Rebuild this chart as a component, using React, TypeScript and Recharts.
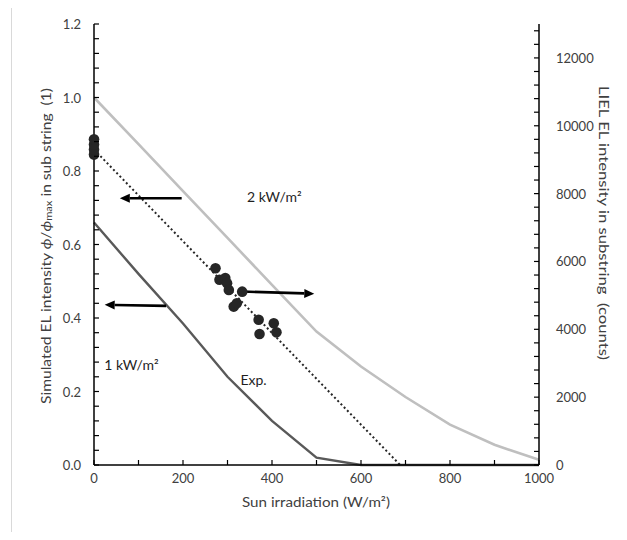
import {
  ComposedChart,
  Line,
  Scatter,
  XAxis,
  YAxis,
  ReferenceLine,
  ReferenceDot,
} from "recharts";

// simulated EL intensity (left axis, normalised) vs sun irradiation
const IRRADIATION = [0, 100, 200, 300, 400, 500, 600, 700, 800, 900, 1000];
const SIM_2KW = [1.0, 0.873, 0.745, 0.618, 0.49, 0.363, 0.268, 0.185, 0.11, 0.055, 0.014];
const SIM_1KW = [0.66, 0.52, 0.385, 0.24, 0.12, 0.02, 0, 0, 0, 0, 0];

// LIEL measurements (right axis, counts)
const EXP_W = [0, 0, 0, 0, 273, 282, 295, 299, 303, 333, 314, 321, 370, 404, 372, 410];
const EXP_COUNTS = [9150, 9300, 9450, 9600, 5800, 5460, 5510, 5360, 5160, 5110, 4670, 4770, 4280, 4180, 3860, 3910];

// linear trend of the measurements
const TREND_W = [0, 688];
const TREND_COUNTS = [9300, 0];

const X_TICKS = [0, 100, 200, 300, 400, 500, 600, 700, 800, 900, 1000];
const X_LABELS = [0, 200, 400, 600, 800, 1000];
const LEFT_LABELS = [0, 0.2, 0.4, 0.6, 0.8, 1.0, 1.2];
const RIGHT_LABELS = [0, 2000, 4000, 6000, 8000, 10000, 12000];

const LEFT_TICKS = Array.from({ length: 31 }, (_, i) => +(i * 0.04).toFixed(2));
const RIGHT_TICKS = Array.from({ length: 33 }, (_, i) => i * 400);

const simData = IRRADIATION.map((w, i) => ({ w, sim2: SIM_2KW[i], sim1: SIM_1KW[i] }));
const expData = EXP_W.map((w, i) => ({ w, counts: EXP_COUNTS[i] }));
const trendData = TREND_W.map((w, i) => ({ w, counts: TREND_COUNTS[i] }));

const FONT = "Lato, 'Open Sans', sans-serif";
const TICK_COLOR = "#404040";
const TICK_LEN = 5;
const AXIS_LINE = { stroke: "#000", strokeWidth: 1.5 };

// ticks point into the plot, like Excel's "inside" tick marks
function BottomTick(props: any) {
  const { x, y, payload } = props;
  const v = payload.value;
  return (
    <g>
      <line x1={x} y1={y} x2={x} y2={y - TICK_LEN} stroke="#000" strokeWidth={1.2} />
      {X_LABELS.includes(v) && (
        <text x={x} y={y + 13} textAnchor="middle" dominantBaseline="central" fontSize={13} fontFamily={FONT} fill={TICK_COLOR}>
          {v}
        </text>
      )}
    </g>
  );
}

function TopTick(props: any) {
  const { x, y } = props;
  return <line x1={x} y1={y} x2={x} y2={y + TICK_LEN} stroke="#000" strokeWidth={1.2} />;
}

function LeftTick(props: any) {
  const { x, y, payload } = props;
  const v = payload.value;
  const major = LEFT_LABELS.some((l) => Math.abs(l - v) < 1e-6);
  return (
    <g>
      <line x1={x} y1={y} x2={x + TICK_LEN} y2={y} stroke="#000" strokeWidth={1.2} />
      {major && (
        <text x={x - 13} y={y} textAnchor="end" dominantBaseline="central" fontSize={13} fontFamily={FONT} fill={TICK_COLOR}>
          {v.toFixed(1)}
        </text>
      )}
    </g>
  );
}

function RightTick(props: any) {
  const { x, y, payload } = props;
  const v = payload.value;
  return (
    <g>
      <line x1={x} y1={y} x2={x - TICK_LEN} y2={y} stroke="#000" strokeWidth={1.2} />
      {RIGHT_LABELS.includes(v) && (
        <text x={x + 17} y={y} textAnchor="start" dominantBaseline="central" fontSize={13} fontFamily={FONT} fill={TICK_COLOR}>
          {v}
        </text>
      )}
    </g>
  );
}

function Arrow(props: any) {
  const { x1, y1, x2, y2 } = props;
  const ang = Math.atan2(y2 - y1, x2 - x1);
  const len = 10;
  const half = 4.5;
  const bx = x2 - len * Math.cos(ang);
  const by = y2 - len * Math.sin(ang);
  const px = -Math.sin(ang) * half;
  const py = Math.cos(ang) * half;
  return (
    <g>
      <line x1={x1} y1={y1} x2={bx} y2={by} stroke="#000" strokeWidth={2.6} />
      <polygon points={`${x2},${y2} ${bx + px},${by + py} ${bx - px},${by - py}`} fill="#000" />
    </g>
  );
}

function Note(text: string) {
  return (props: any) => (
    <text x={props.cx} y={props.cy} dominantBaseline="central" fontSize={14} fontFamily={FONT} fill="#1f1f1f">
      {text}
    </text>
  );
}

export default function App() {
  return (
    <div
      style={{
        position: "relative",
        width: 627,
        height: 540,
        margin: -8,
        background: "#fff",
        overflow: "hidden",
        fontFamily: FONT,
      }}
    >
      <div
        style={{
          position: "absolute",
          left: 11,
          top: 4,
          width: 700,
          height: 700,
          borderTop: "1.5px solid #d9d9d9",
          borderLeft: "1.5px solid #d9d9d9",
        }}
      />
      <ComposedChart
        width={627}
        height={540}
        data={simData}
        margin={{ top: 24, right: 0, bottom: 0, left: 0 }}
        style={{ position: "absolute", left: 0, top: 0 }}
      >
        <XAxis
          xAxisId="bottom"
          dataKey="w"
          type="number"
          domain={[0, 1000]}
          ticks={X_TICKS}
          interval={0}
          tick={BottomTick}
          tickSize={0}
          tickMargin={0}
          tickLine={false}
          axisLine={AXIS_LINE}
          height={75}
        />
        <XAxis
          xAxisId="top"
          orientation="top"
          dataKey="w"
          type="number"
          domain={[0, 1000]}
          ticks={X_TICKS}
          interval={0}
          tick={TopTick}
          tickSize={0}
          tickMargin={0}
          tickLine={false}
          axisLine={AXIS_LINE}
          height={0}
        />
        <YAxis
          yAxisId="left"
          type="number"
          domain={[0, 1.2]}
          ticks={LEFT_TICKS}
          interval={0}
          tick={LeftTick}
          tickSize={0}
          tickMargin={0}
          tickLine={false}
          axisLine={AXIS_LINE}
          width={94}
        />
        <YAxis
          yAxisId="right"
          orientation="right"
          type="number"
          domain={[0, 13000]}
          ticks={RIGHT_TICKS}
          interval={0}
          tick={RightTick}
          tickSize={0}
          tickMargin={0}
          tickLine={false}
          axisLine={AXIS_LINE}
          width={88}
        />

        <Line
          xAxisId="bottom"
          yAxisId="left"
          dataKey="sim2"
          stroke="#bfbfbf"
          strokeWidth={2.6}
          dot={false}
          isAnimationActive={false}
        />
        <Line
          xAxisId="bottom"
          yAxisId="left"
          dataKey="sim1"
          stroke="#595959"
          strokeWidth={2.4}
          dot={false}
          isAnimationActive={false}
        />
        <Line
          xAxisId="bottom"
          yAxisId="right"
          data={trendData}
          dataKey="counts"
          stroke="#262626"
          strokeWidth={2}
          strokeDasharray="2 2.6"
          dot={false}
          isAnimationActive={false}
        />
        <Scatter
          xAxisId="bottom"
          yAxisId="right"
          data={expData}
          dataKey="counts"
          isAnimationActive={false}
          shape={(p: any) => <circle cx={p.cx} cy={p.cy} r={5.3} fill="#262626" />}
        />

        <ReferenceLine
          xAxisId="bottom"
          yAxisId="left"
          segment={[{ x: 197, y: 0.726 }, { x: 58, y: 0.726 }]}
          shape={Arrow}
        />
        <ReferenceLine
          xAxisId="bottom"
          yAxisId="left"
          segment={[{ x: 162, y: 0.433 }, { x: 24, y: 0.436 }]}
          shape={Arrow}
        />
        <ReferenceLine
          xAxisId="bottom"
          yAxisId="right"
          segment={[{ x: 333, y: 5114 }, { x: 495, y: 5050 }]}
          shape={Arrow}
        />

        <ReferenceDot xAxisId="bottom" yAxisId="left" x={344} y={0.73} r={0} shape={Note("2 kW/m²")} />
        <ReferenceDot xAxisId="bottom" yAxisId="left" x={23} y={0.273} r={0} shape={Note("1 kW/m²")} />
        <ReferenceDot xAxisId="bottom" yAxisId="left" x={329} y={0.232} r={0} shape={Note("Exp.")} />
      </ComposedChart>

      <svg width={627} height={540} style={{ position: "absolute", left: 0, top: 0, pointerEvents: "none" }}>
        <text
          x={316}
          y={501}
          textAnchor="middle"
          dominantBaseline="central"
          fontSize={14}
          fontFamily={FONT}
          fill="#404040"
          textLength={148}
          lengthAdjust="spacingAndGlyphs"
        >
          Sun irradiation (W/m²)
        </text>
        <text
          transform="translate(45 246) rotate(-90)"
          textAnchor="middle"
          dominantBaseline="central"
          fontSize={14}
          fontFamily={FONT}
          fill="#404040"
          textLength={316}
          lengthAdjust="spacingAndGlyphs"
          style={{ whiteSpace: "pre" }}
        >
          Simulated EL intensity <tspan fontStyle="italic">ϕ</tspan>/<tspan fontStyle="italic">ϕ</tspan>
          <tspan fontSize={10} dy={3}>max</tspan>
          <tspan dy={-3}>{" in sub string  (1)"}</tspan>
        </text>
        <text
          transform="translate(604 223) rotate(90)"
          textAnchor="middle"
          dominantBaseline="central"
          fontSize={14}
          fontFamily={FONT}
          fill="#404040"
          textLength={274}
          lengthAdjust="spacingAndGlyphs"
          style={{ whiteSpace: "pre" }}
        >
          {"LIEL EL intensity in substring  (counts)"}
        </text>
      </svg>
    </div>
  );
}
